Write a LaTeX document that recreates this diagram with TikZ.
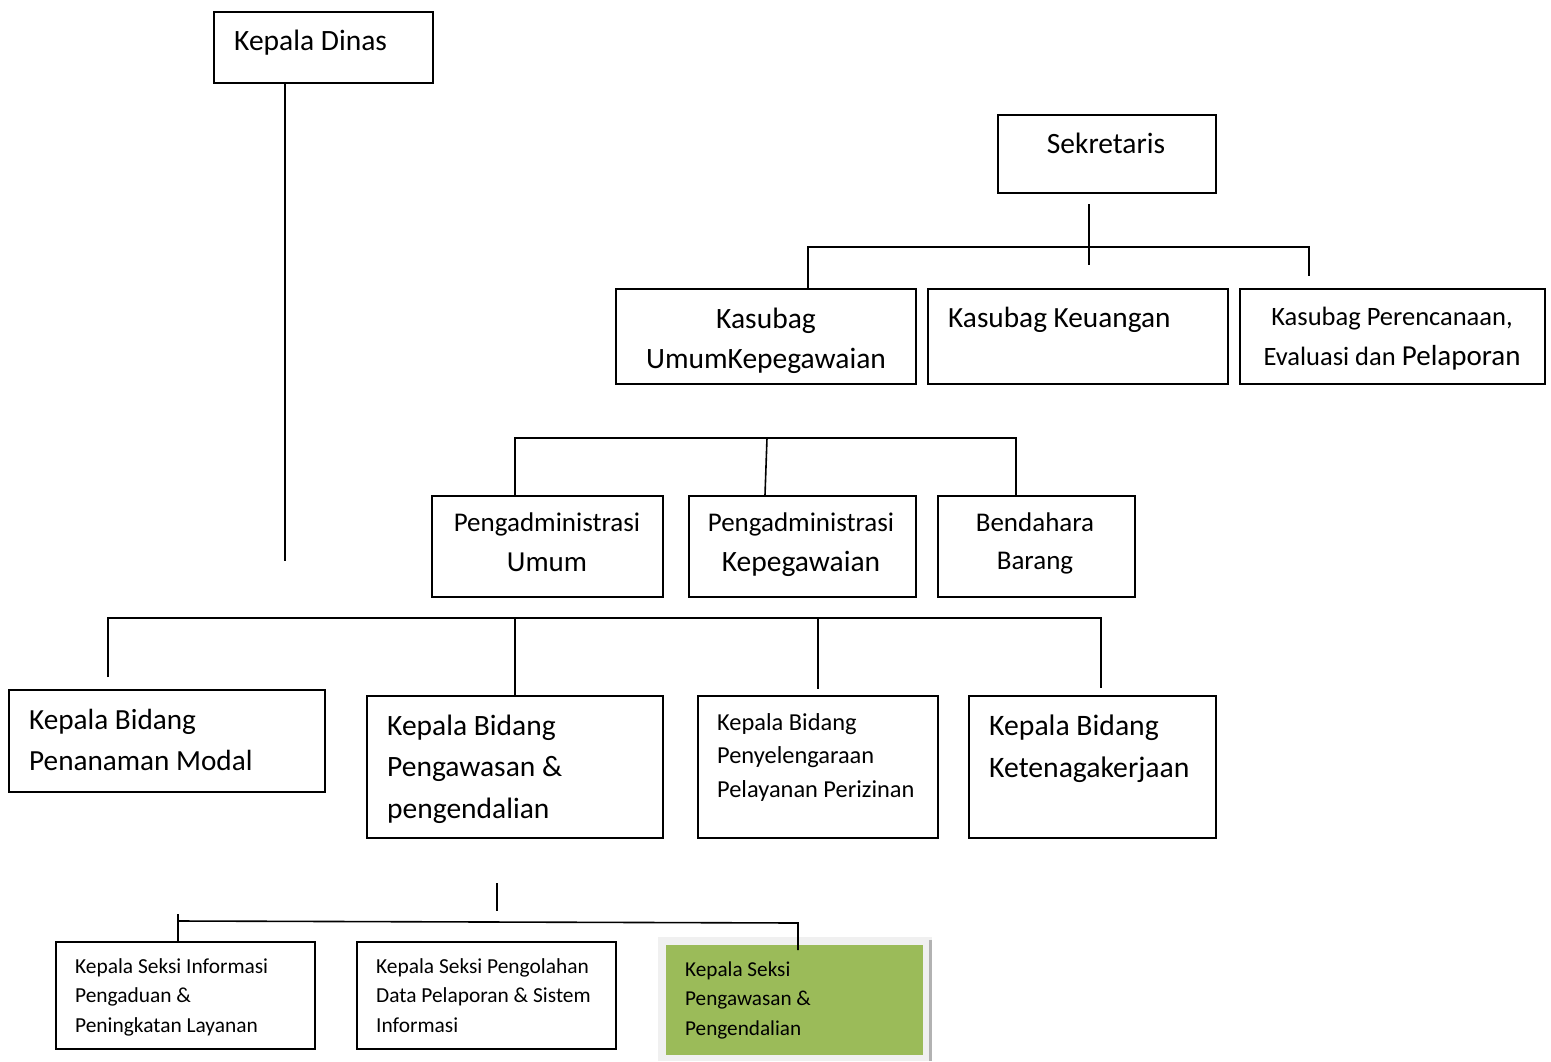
\documentclass[tikz,border=0pt]{standalone}
\usepackage{fontspec}
\setmainfont{Carlito}
\definecolor{grn}{HTML}{9BBB59}
\definecolor{frm}{HTML}{F0F0F0}
\newcommand{\fs}[1]{\fontsize{#1}{#1}\selectfont}
\tikzset{
  box/.style={draw, line width=1.6pt, inner sep=0pt, anchor=north west},
  conn/.style={line width=1.6pt},
  txt/.style={inner sep=0pt, anchor=base west, align=left},
  txtc/.style={inner sep=0pt, anchor=base, align=center},
}
\begin{document}
\begin{tikzpicture}[x=1pt,y=-1pt]
\useasboundingbox (0,0) rectangle (1551,1061);
% boxes
\node[box, minimum width=219pt, minimum height=71pt] (kd) at (213,11) {};
\node[box, minimum width=218pt, minimum height=78pt] (sek) at (997,114) {};
\node[box, minimum width=300pt, minimum height=95pt] (kum) at (615,288) {};
\node[box, minimum width=300pt, minimum height=95pt] (kke) at (927,288) {};
\node[box, minimum width=305pt, minimum height=95pt] (kpe) at (1239,288) {};
\node[box, minimum width=231pt, minimum height=101pt] (pau) at (431,495) {};
\node[box, minimum width=227pt, minimum height=101pt] (pak) at (688,495) {};
\node[box, minimum width=197pt, minimum height=101pt] (bb) at (937,495) {};
\node[box, minimum width=316pt, minimum height=102pt] (bpm) at (8,689) {};
\node[box, minimum width=296pt, minimum height=142pt] (bpp) at (366,695) {};
\node[box, minimum width=240pt, minimum height=142pt] (bpl) at (697,695) {};
\node[box, minimum width=247pt, minimum height=142pt] (bkt) at (968,695) {};
\node[box, minimum width=259pt, minimum height=107pt] (sinf) at (55,941) {};
\node[box, minimum width=259pt, minimum height=107pt] (spd) at (356,941) {};
% green box with frame and shadow
\fill[frm] (658,937) rectangle (932,1061);
\fill[black!30] (929,940) rectangle (932,1061);
\node[inner sep=0pt, anchor=north west, fill=grn, minimum width=257pt, minimum height=110pt] (spp) at (666,945) {};
% texts (anchor = baseline of last line)
\node[txt, font=\fontsize{29.5}{40}\selectfont] at (234,50) {Kepala Dinas};
\node[txtc, font=\fontsize{29.5}{40}\selectfont] at (1106,153) {Sekretaris};
\node[txtc, font=\fontsize{29.5}{40}\selectfont] at (766,368) {Kasubag\\UmumKepegawaian};
\node[txt, font=\fontsize{29.3}{40}\selectfont] at (948,327) {Kasubag Keuangan};
\node[txtc, font=\fontsize{27}{40}\selectfont] at (1392,365) {\fs{26.5}Kasubag Perencanaan,\\{\fs{26.5}Evaluasi dan} {\fs{29}Pelaporan}};
\node[txtc, font=\fontsize{27}{40}\selectfont] at (547,571) {\fs{27}Pengadministrasi\\\fs{29}Umum};
\node[txtc, font=\fontsize{27}{40}\selectfont] at (801,571) {\fs{27}Pengadministrasi\\\fs{29.5}Kepegawaian};
\node[txtc, font=\fontsize{27}{38}\selectfont] at (1035,569) {Bendahara\\Barang};
\node[txt, font=\fontsize{29.2}{41}\selectfont] at (29,770) {Kepala Bidang\\Penanaman Modal};
\node[txt, font=\fontsize{29.5}{41.5}\selectfont] at (387,818) {Kepala Bidang\\Pengawasan \&\\pengendalian};
\node[txt, font=\fontsize{24.4}{33.5}\selectfont] at (717,797) {Kepala Bidang\\Penyelengaraan\\Pelayanan Perizinan};
\node[txt, font=\fontsize{29.7}{42}\selectfont] at (989,777) {Kepala Bidang\\Ketenagakerjaan};
\node[txt, font=\fontsize{21.4}{29.5}\selectfont] at (75,1032) {Kepala Seksi Informasi\\Pengaduan \&\\Peningkatan Layanan};
\node[txt, font=\fontsize{21.4}{29.5}\selectfont] at (376,1032) {Kepala Seksi Pengolahan\\Data Pelaporan \& Sistem\\Informasi};
\node[txt, font=\fontsize{21.2}{29.5}\selectfont] at (685,1035) {Kepala Seksi\\Pengawasan \&\\Pengendalian};
% connectors
\coordinate (kdend) at (285,561);
\draw[conn] (kd.south -| kdend) -- (kdend);
\coordinate (s1) at (1089,204);
\coordinate (s2) at (1089,265);
\draw[conn] (s1) -- (s2);
\draw[conn] (kum.north -| 808,0) -- (808,247) -- (1309,247) -- (1309,276);
\draw[conn] (pau.north -| 515,0) -- (515,438) -- (1016,438) -- (bb.north -| 1016,0);
\draw[conn] (767,438) -- (pak.north -| 765,0);
\draw[conn] (108,677) -- (108,618) -- (1101,618) -- (1101,688);
\draw[conn] (515,618) -- (bpp.north -| 515,0);
\draw[conn] (818,618) -- (818,689);
\draw[conn] (497,883) -- (497,911);
\draw[conn] (178,914) -- (sinf.north -| 178,0);
\draw[conn] (178,921) -- (798,923) -- (798,950);
\end{tikzpicture}
\end{document}
